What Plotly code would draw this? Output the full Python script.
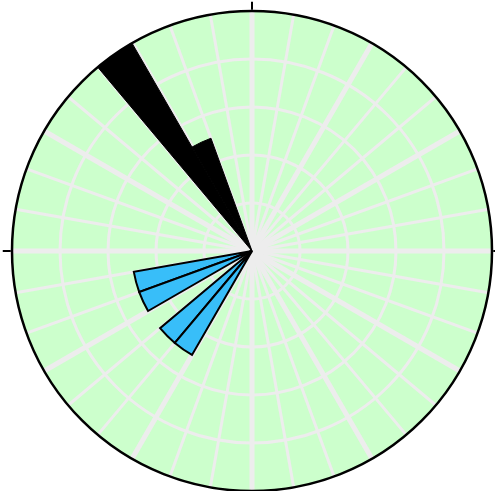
import plotly.graph_objects as go

# Direction bins (degrees, centre of each 10-degree sector) and bar lengths
black_theta = [115, 125]
black_r = [2.5, 5.0]
blue_theta = [195, 205, 225, 235]
blue_r = [2.5, 2.5, 2.5, 2.5]

sector_width = 10
r_max = 5

grid_color = "#ededed"
bg_color = "#ccffcc"
blue_color = "#38bef9"

fig = go.Figure()

# empty placeholder traces so the background and outline layers are drawn
fig.add_trace(go.Scatterpolar(r=[None], theta=[None], mode="markers",
                              subplot="polar", showlegend=False, hoverinfo="skip"))

fig.add_trace(go.Barpolar(
    r=black_r, theta=black_theta, width=[sector_width] * len(black_r),
    marker=dict(color="black", line=dict(color="black", width=1)),
    subplot="polar2", showlegend=False,
))
fig.add_trace(go.Barpolar(
    r=blue_r, theta=blue_theta, width=[sector_width] * len(blue_r),
    marker=dict(color=blue_color, line=dict(color="black", width=2)),
    subplot="polar2", showlegend=False,
))

fig.add_trace(go.Scatterpolar(r=[None], theta=[None], mode="markers",
                              subplot="polar3", showlegend=False, hoverinfo="skip"))

dom = dict(x=[0, 1], y=[0, 1])
hidden_radial = dict(range=[0, r_max], showticklabels=False, ticks="", showline=False)

fig.update_layout(
    template="none",
    width=495, height=491,
    margin=dict(l=12, r=3, t=11, b=0),
    paper_bgcolor="white",
    showlegend=False,
    # base layer: background, rings and fine 10-degree spokes
    polar=dict(
        domain=dom,
        bgcolor=bg_color,
        radialaxis=dict(hidden_radial, showgrid=True, gridcolor=grid_color,
                        gridwidth=2.5, dtick=1),
        angularaxis=dict(showticklabels=False, ticks="", showline=False,
                         showgrid=True, gridcolor=grid_color, gridwidth=2.5,
                         tickmode="linear", tick0=0, dtick=10),
    ),
    # bar layer with heavier 30-degree spokes
    polar2=dict(
        domain=dom,
        bgcolor="rgba(0,0,0,0)",
        radialaxis=dict(hidden_radial, showgrid=False),
        angularaxis=dict(showticklabels=False, ticks="", showline=False,
                         showgrid=True, gridcolor=grid_color, gridwidth=4.5,
                         tickmode="linear", tick0=0, dtick=30),
    ),
    # outline and cardinal ticks
    polar3=dict(
        domain=dom,
        bgcolor="rgba(0,0,0,0)",
        radialaxis=dict(hidden_radial, showgrid=False),
        angularaxis=dict(showticklabels=False, ticks="outside", ticklen=8,
                         tickwidth=2, tickcolor="black",
                         showline=True, linecolor="black", linewidth=2.5,
                         showgrid=False, tickmode="linear", tick0=0, dtick=90),
    ),
)

fig.write_html("out.html")
